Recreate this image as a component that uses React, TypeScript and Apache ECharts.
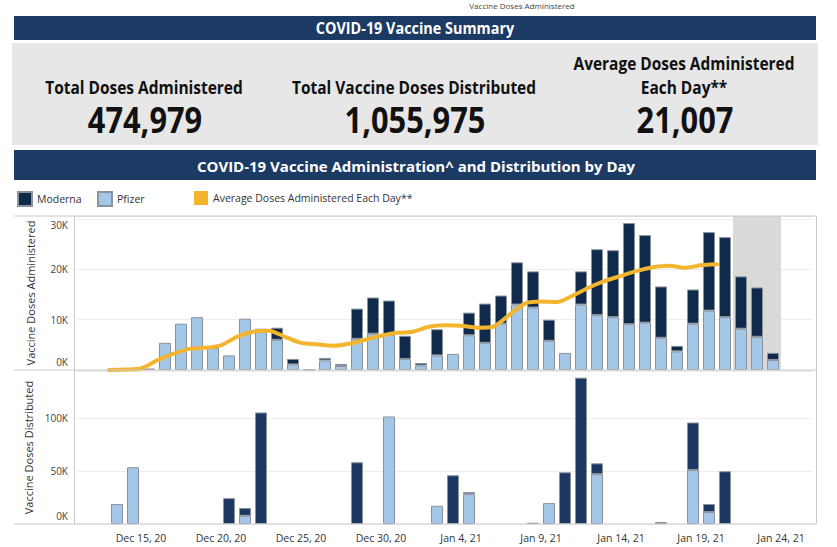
import React, { useEffect, useRef } from "react";
import * as echarts from "echarts";

// Day bands (bars) and day boundaries (ticks / average line): Dec 11, 20 .. Jan 26, 21
const dayLabels: string[] = [
  "Dec 11, 20", "Dec 12, 20", "Dec 13, 20", "Dec 14, 20", "Dec 15, 20", "Dec 16, 20", "Dec 17, 20",
  "Dec 18, 20", "Dec 19, 20", "Dec 20, 20", "Dec 21, 20", "Dec 22, 20", "Dec 23, 20", "Dec 24, 20",
  "Dec 25, 20", "Dec 26, 20", "Dec 27, 20", "Dec 28, 20", "Dec 29, 20", "Dec 30, 20", "Dec 31, 20",
  "Jan 1, 21", "Jan 2, 21", "Jan 3, 21", "Jan 4, 21", "Jan 5, 21", "Jan 6, 21", "Jan 7, 21",
  "Jan 8, 21", "Jan 9, 21", "Jan 10, 21", "Jan 11, 21", "Jan 12, 21", "Jan 13, 21", "Jan 14, 21",
  "Jan 15, 21", "Jan 16, 21", "Jan 17, 21", "Jan 18, 21", "Jan 19, 21", "Jan 20, 21", "Jan 21, 21",
  "Jan 22, 21", "Jan 23, 21", "Jan 24, 21", "Jan 25, 21", "Jan 26, 21",
];
const barDays = dayLabels.slice(0, 46);

const N = null;
// Doses administered per day (Dec 11 .. Jan 25)
const adminPfizer = [
  N, N, N, N, 300, 5400, 9200, 10500, 4400, 2900, 10200, 7600, 6000, 1100, 100, 1900, 800, 6200, 7200, 7000, 2200,
  900, 2900, 3200, 6900, 5400, 9200, 13000, 12400, 5800, 3400, 13000, 10900, 10500, 9100, 9400, 6400, 3700, 9200,
  11800, 10500, 8200, 6600, 2000, N, N,
];
const adminModerna = [
  N, N, N, N, N, N, N, N, N, N, N, 600, 2400, 1100, N, 500, 400, 6000, 7200, 6800, 4600,
  500, 5200, N, 4500, 7800, 5600, 8400, 7200, 4200, N, 6600, 13100, 13300, 20100, 17400, 10200, 1100, 6800,
  15600, 15900, 10400, 9800, 1400, N, N,
];
// Average doses administered each day, at day boundaries (Dec 11 .. Jan 26)
const avgDoses = [
  N, N, 0, 100, 300, 1900, 3200, 4200, 4400, 4900, 6600, 7600, 7800, 6600, 5400, 5100, 4800, 5200, 6000, 6800, 7400,
  7600, 8600, 8900, 8800, 8400, 8600, 10900, 13200, 13600, 13500, 14800, 16400, 17700, 18700, 19700, 20400, 20700,
  20300, 20800, 21000, N, N, N, N, N, N,
];
// Doses distributed per day (Dec 11 .. Jan 25)
const distPfizer = [
  N, N, 18900, 53800, N, N, N, N, N, N, 7800, N, N, N, N, N, N, N, N, 101900, N,
  N, 17300, N, 28300, N, N, N, 1200, 19800, N, N, 47200, N, N, N, 1900, N, 51200,
  11300, N, N, N, N, N, N,
];
const distModerna = [
  N, N, N, N, N, N, N, N, N, 24500, 7300, 105700, N, N, N, N, N, 58500, N, N, N,
  N, N, 46200, 1900, N, N, N, N, N, 49000, 138700, 10300, N, N, N, N, N, 45000,
  7600, 50000, N, N, N, N, N,
];

const kpiLabels = [["Total Doses Administered"], ["Total Vaccine Doses Distributed"], ["Average Doses Administered", "Each Day**"]];
const kpiValues = ["474,979", "1,055,975", "21,007"];

const NAVY = "#1b3a64";
const MODERNA = "#102a4c";
const MODERNA2 = "#1b3762";
const PFIZER = "#a4c7e8";
const BORDER = "#8b929b";
const ORANGE = "#f4b52e";
const LINE = "#cacaca";
const SANS = "'Open Sans', sans-serif";

export default function App() {
  const ref = useRef<HTMLDivElement>(null);
  useEffect(() => {
    document.body.style.margin = "0";
    const chart = echarts.init(ref.current!, null, { renderer: "svg" });
    const kFmt = (v: number) => {
      if (v === 0) return "{b|0K}";
      if (v === 30000) return "{t|30K}";
      if (v % 10000 !== 0) return "";
      return v / 1000 + "K";
    };
    const labelStyle = {
      fontFamily: SANS,
      fontSize: 10,
      color: "#444",
      rich: {
        t: { padding: [12, 0, 0, 0], fontFamily: SANS, fontSize: 10, color: "#444" },
        b: { padding: [0, 0, 16, 0], fontFamily: SANS, fontSize: 10, color: "#444" },
      },
    };
    const kpiX = [144, 414, 684];
    const graphics: any[] = [
      {
        type: "text", x: 522, y: 1,
        style: { text: "Vaccine Doses Administered", fontSize: 8, fontFamily: SANS, fill: "#444", align: "center", verticalAlign: "top" },
      },
      { type: "rect", shape: { x: 14, y: 16, width: 802, height: 24 }, style: { fill: NAVY }, z: 0 },
      {
        type: "text", x: 415, y: 28, scaleX: 0.9,
        style: { text: "COVID-19 Vaccine Summary", fill: "#fff", fontFamily: SANS, fontWeight: "bold", fontSize: 16, align: "center", verticalAlign: "middle" },
      },
      { type: "rect", shape: { x: 12, y: 43, width: 806, height: 102 }, style: { fill: "#e7e7e7" }, z: 0 },
      { type: "rect", shape: { x: 14, y: 150, width: 802, height: 30 }, style: { fill: NAVY }, z: 0 },
      {
        type: "text", x: 416, y: 166,
        style: { text: "COVID-19 Vaccine Administration^ and Distribution by Day", fill: "#fff", fontFamily: SANS, fontWeight: "bold", fontSize: 15, align: "center", verticalAlign: "middle" },
      },
      { type: "line", shape: { x1: 14, y1: 216, x2: 816, y2: 216 }, style: { stroke: LINE, lineWidth: 1 }, z: 10 },
      { type: "line", shape: { x1: 14, y1: 370, x2: 816, y2: 370 }, style: { stroke: LINE, lineWidth: 1 }, z: 10 },
      { type: "line", shape: { x1: 14, y1: 524, x2: 816, y2: 524 }, style: { stroke: LINE, lineWidth: 1 }, z: 10 },
      { type: "line", shape: { x1: 74.5, y1: 216, x2: 74.5, y2: 524 }, style: { stroke: LINE, lineWidth: 1 }, z: 10 },
      { type: "line", shape: { x1: 816.5, y1: 216, x2: 816.5, y2: 524 }, style: { stroke: LINE, lineWidth: 1 }, z: 10 },
    ];
    kpiLabels.forEach((lines, i) => {
      const ys = lines.length === 2 ? [63, 87] : [87];
      lines.forEach((ln, j) => {
        graphics.push({
          type: "text", x: kpiX[i], y: ys[j], scaleX: 0.86,
          style: { text: ln, fill: "#111", fontFamily: SANS, fontWeight: "bold", fontSize: 18, align: "center", verticalAlign: "middle" },
        });
      });
      graphics.push({
        type: "text", x: kpiX[i] + 1, y: 120, scaleX: 0.88,
        style: { text: kpiValues[i], fill: "#111", fontFamily: SANS, fontWeight: "bold", fontSize: 35, align: "center", verticalAlign: "middle" },
      });
    });

    const legendText = { fontFamily: SANS, fontSize: 10.5, color: "#333" };
    const legendBase = { top: 191, itemWidth: 14, itemHeight: 14, padding: 0, icon: "rect", textStyle: legendText, selectedMode: false };

    chart.setOption({
      animation: false,
      graphic: graphics,
      legend: [
        { ...legendBase, left: 17, data: ["Moderna"] },
        { ...legendBase, left: 97, data: ["Pfizer"] },
        { ...legendBase, left: 194, data: ["Average Doses Administered Each Day**"] },
      ],
      grid: [
        { left: 77, width: 736, top: 216, height: 154 },
        { left: 77, width: 736, top: 371, height: 153 },
      ],
      xAxis: [
        { type: "category", gridIndex: 0, data: barDays, show: false, boundaryGap: true },
        { type: "category", gridIndex: 0, data: dayLabels, show: false, boundaryGap: false, position: "bottom" },
        { type: "category", gridIndex: 1, data: barDays, show: false, boundaryGap: true },
        {
          type: "category", gridIndex: 1, data: dayLabels, boundaryGap: false, position: "bottom",
          axisLine: { show: false }, axisTick: { show: false },
          axisLabel: { interval: (i: number) => i % 5 === 4, margin: 8, fontFamily: SANS, fontSize: 10.5, color: "#333" },
        },
      ],
      yAxis: [
        {
          type: "value", gridIndex: 0, min: 0, max: 30600, interval: 10000,
          name: "Vaccine Doses Administered", nameLocation: "middle", nameGap: 41,
          nameTextStyle: { fontFamily: SANS, fontSize: 11, color: "#333" },
          axisLine: { show: false }, axisTick: { show: false },
          axisLabel: { ...labelStyle, margin: 9, formatter: kFmt },
          splitLine: { lineStyle: { color: "#ededed" } },
        },
        {
          type: "value", gridIndex: 1, min: 0, max: 145000, interval: 50000,
          name: "Vaccine Doses Distributed", nameLocation: "middle", nameGap: 43,
          nameTextStyle: { fontFamily: SANS, fontSize: 11, color: "#333" },
          axisLine: { show: false }, axisTick: { show: false },
          axisLabel: {
            ...labelStyle, margin: 9,
            formatter: (v: number) => (v === 0 ? "{b|0K}" : v % 50000 === 0 ? v / 1000 + "K" : ""),
          },
          splitLine: { lineStyle: { color: "#ededed" } },
        },
      ],
      series: [
        {
          name: "Pfizer", type: "bar", xAxisIndex: 0, yAxisIndex: 0, stack: "admin", barWidth: 12, data: adminPfizer,
          itemStyle: { color: PFIZER, borderColor: BORDER, borderWidth: 1 },
        },
        {
          name: "Moderna", type: "bar", xAxisIndex: 0, yAxisIndex: 0, stack: "admin", barWidth: 12, data: adminModerna,
          itemStyle: { color: MODERNA, borderColor: BORDER, borderWidth: 1 },
        },
        {
          name: "Pfizer", type: "bar", xAxisIndex: 2, yAxisIndex: 1, stack: "dist", barWidth: 12, data: distPfizer,
          itemStyle: { color: PFIZER, borderColor: BORDER, borderWidth: 1 },
        },
        {
          name: "Moderna", type: "bar", xAxisIndex: 2, yAxisIndex: 1, stack: "dist", barWidth: 12, data: distModerna,
          itemStyle: { color: MODERNA2, borderColor: BORDER, borderWidth: 1 },
        },
        {
          name: "Average Doses Administered Each Day**", type: "line", xAxisIndex: 1, yAxisIndex: 0, z: 4,
          data: avgDoses, smooth: 0.25, symbol: "none", color: ORANGE,
          lineStyle: { color: ORANGE, width: 4, cap: "round", join: "round" },
          itemStyle: { color: ORANGE },
          markArea: {
            silent: true,
            itemStyle: { color: "#d9d9d9" },
            data: [[{ xAxis: "Jan 21, 21" }, { xAxis: "Jan 24, 21" }]],
          },
        },
      ],
    });
    return () => chart.dispose();
  }, []);
  return <div ref={ref} style={{ position: "absolute", left: 0, top: 0, width: 837, height: 547 }} />;
}
